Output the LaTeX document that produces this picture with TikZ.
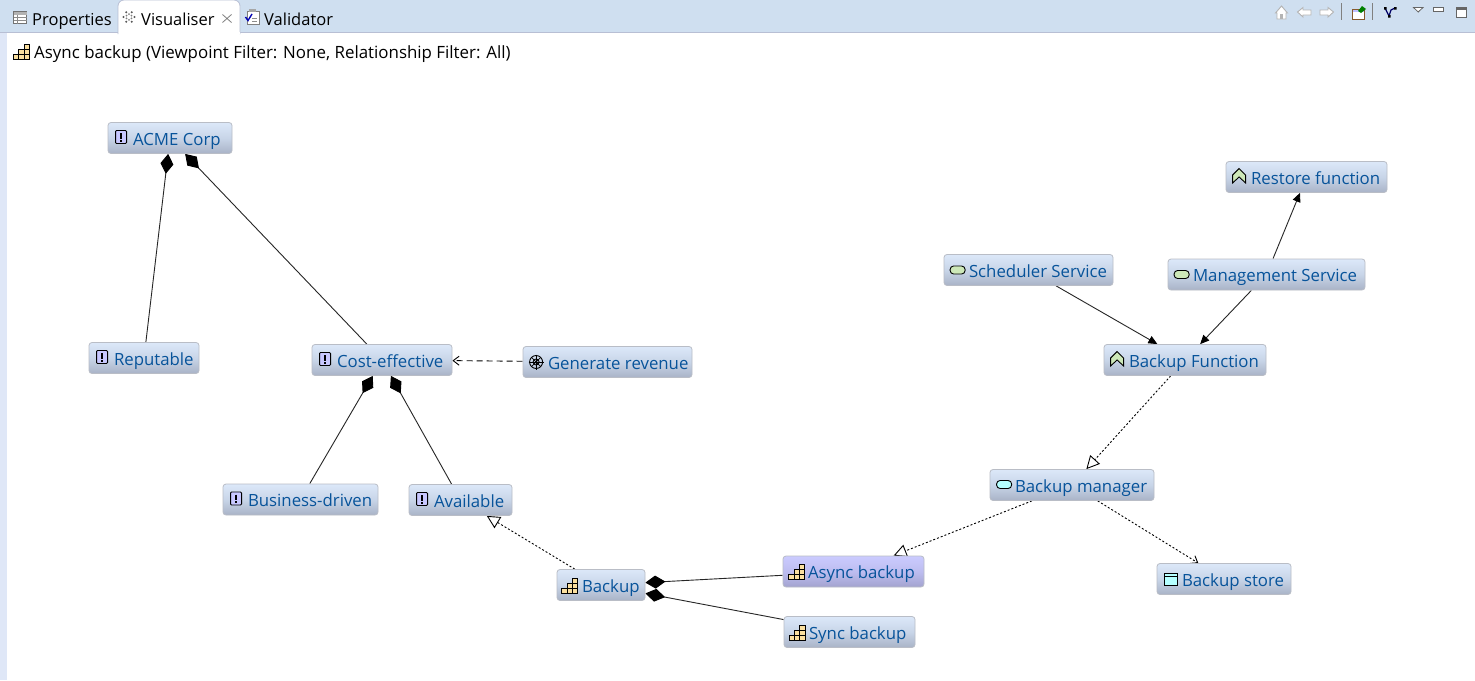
\documentclass[tikz,border=0pt]{standalone}
\usepackage{fontspec}
\setmainfont{Open Sans}
\usepackage{xcolor}
\usetikzlibrary{arrows.meta, backgrounds}
\definecolor{stripbg}{HTML}{CFDFF0}
\definecolor{stripline}{HTML}{B8BFD4}
\definecolor{sidebg}{HTML}{DFE7F7}
\definecolor{boxtop}{HTML}{DCE8F9}
\definecolor{boxmid}{HTML}{C8D5E8}
\definecolor{boxbot}{HTML}{A9B3C7}
\definecolor{boxline}{HTML}{B9BDC6}
\definecolor{seltop}{HTML}{CBCBFF}
\definecolor{selmid}{HTML}{BDBDF0}
\definecolor{selbot}{HTML}{A3A3CF}
\definecolor{elemtext}{HTML}{07539A}
\definecolor{reqfill}{HTML}{C8C8FF}
\definecolor{capfill}{HTML}{FADF9F}
\definecolor{funcfill}{HTML}{CDE8B8}
\definecolor{techfill}{HTML}{B5FFFF}
\definecolor{toolgrey}{HTML}{B4B4B4}
\tikzset{
  pics/reqicon/.style={code={
    \draw[line width=.9pt, fill=reqfill, rounded corners=1pt] (-5.5,-6.5) rectangle (5.5,6.5);
    \draw[line width=2pt] (0,-4) -- (0,1.5);
    \fill (-1,2.8) rectangle (1,4.8);
  }},
  pics/capicon/.style={code={
    \foreach \cx/\cy in {-8/8, -2.7/8, 2.6/8, -2.7/3, 2.6/3, 2.6/-2}
      \draw[line width=.8pt, fill=capfill] (\cx,\cy) rectangle ++(5.3,-5);
  }},
  pics/funcicon/.style={code={
    \draw[line width=.9pt, fill=funcfill] (-6.5,7) -- (-6.5,-1) -- (0,-7.5) -- (6.5,-1) -- (6.5,7) -- (0,1) -- cycle;
  }},
  pics/svcicon/.style={code={
    \draw[line width=.9pt, fill=funcfill, rounded corners=3.5pt] (-7.5,-4) rectangle (7.5,4);
  }},
  pics/mgricon/.style={code={
    \draw[line width=.9pt, fill=techfill, rounded corners=3.5pt] (-7.5,-4) rectangle (7.5,4);
  }},
  pics/storeicon/.style={code={
    \draw[line width=.9pt, fill=techfill] (-6.5,-6) rectangle (6.5,6);
    \draw[line width=.9pt] (-6.5,-2.5) -- (6.5,-2.5);
  }},
  pics/goalicon/.style={code={
    \draw[line width=.9pt] (0,0) circle (6.5);
    \draw[line width=.9pt] (0,0) circle (3);
    \draw[line width=.9pt] (-7.5,0) -- (7.5,0) (0,-7.5) -- (0,7.5);
    \draw[line width=.7pt] (-4.6,-4.6) -- (4.6,4.6) (-4.6,4.6) -- (4.6,-4.6);
  }},
}
\begin{document}
\begin{tikzpicture}[
  x=1pt, y=-1pt,
  elem/.style={draw=boxline, rounded corners=3pt, line width=.8pt,
               top color=boxtop, bottom color=boxbot, middle color=boxmid,
               minimum height=31pt, inner xsep=0pt, inner ysep=0pt,
               text width=#1pt, align=flush left, text height=19pt, text depth=5pt,
               execute at begin node=\hspace*{25pt},
               font=\fontsize{16.8}{20}\selectfont, text=elemtext},
  selected/.style={top color=seltop, bottom color=selbot, middle color=selmid},
  tabtext/.style={font=\fontsize{16.5}{20}\selectfont, inner sep=0pt, anchor=base west},
  titletext/.style={font=\fontsize{16.9}{20}\selectfont, inner sep=0pt, anchor=base west},
  compose/.style={{Diamond[length=20pt, width=13pt, black, fill=black]}-, line width=.9pt, black!85},
  assign/.style={-{Triangle[length=9pt, width=8pt, black, fill=black]}, line width=.9pt, black!85},
  realise/.style={-{Triangle[length=13pt, width=13pt, fill=white, line width=.9pt]}, line width=.9pt, dash pattern=on 2pt off 2pt},
  access/.style={-{Straight Barb[length=6pt, width=9pt, line width=.9pt]}, line width=.9pt, dash pattern=on 2pt off 2pt},
  influence/.style={-{Straight Barb[length=6pt, width=9pt, line width=.9pt]}, line width=.9pt, dash pattern=on 6pt off 4pt},
  toolshape/.style={line width=.9pt, draw=toolgrey, fill=white},
]
\useasboundingbox (0,0) rectangle (1475,680);

\node[elem=124] (acme) at (170,138) {ACME Corp};
\node[elem=110] (reputable) at (144,358) {Reputable};
\node[elem=140] (cost) at (382,360) {Cost-effective};
\node[elem=169] (revenue) at (607.5,362) {Generate revenue};
\node[elem=155] (driven) at (300.5,499.5) {Business-driven};
\node[elem=103] (available) at (460.5,500) {Available};
\node[elem=88] (backup) at (601,585) {Backup};
\node[elem=141, selected] (async) at (853.5,571.5) {Async backup};
\node[elem=131] (sync) at (849.5,632) {Sync backup};
\node[elem=161] (restore) at (1306.5,177) {Restore function};
\node[elem=169] (scheduler) at (1028.5,270) {Scheduler Service};
\node[elem=197] (management) at (1266.5,274.5) {Management Service};
\node[elem=162] (function) at (1185,360) {Backup Function};
\node[elem=164] (manager) at (1072,485) {Backup manager};
\node[elem=134] (store) at (1224,579) {Backup store};

\foreach \n/\ic/\dx/\dy in {acme/reqicon/13.5/-1, reputable/reqicon/13.5/-1, cost/reqicon/13.5/-1,
    driven/reqicon/13.5/-1, available/reqicon/13.5/-1, revenue/goalicon/13.5/0,
    backup/capicon/13/0, async/capicon/14/0, sync/capicon/13.5/0,
    restore/funcicon/13.5/-1, function/funcicon/13.5/-1, scheduler/svcicon/14/0,
    management/svcicon/14/0, manager/mgricon/14.5/-0.5, store/storeicon/14.5/0}
  \pic at ([xshift=\dx pt, yshift=-\dy pt]\n.west) {\ic};

\begin{scope}[on background layer]
\fill[white] (0,0) rectangle (1475,680);
\fill[sidebg] (0,32) rectangle (7,680);
\fill[stripbg] (0,0) rectangle (1475,32);
\draw[stripline, line width=1.2pt] (0,32.5) -- (1475,32.5);
\draw[stripline, line width=.8pt, fill=white, rounded corners=6pt] (118,34) -- (118,0) -- (240,0) -- (240,34);
\fill[white] (118.5,32) rectangle (239.5,34);

\draw[compose] (acme) -- (reputable);
\draw[compose] (acme) -- (cost);
\draw[compose] (cost) -- (driven);
\draw[compose] (cost) -- (available);
\draw[compose] (backup) -- (async);
\draw[compose] (backup) -- (sync);
\draw[influence] (revenue) -- (cost);
\draw[realise] (backup) -- (available);
\draw[realise] (function) -- (manager);
\draw[realise] (manager) -- (async);
\draw[access] (manager) -- (store);
\draw[assign] (management) -- (restore);
\draw[assign] (management) -- (function);
\draw[assign] (scheduler) -- (function);
\end{scope}

\node[tabtext] (tabprops) at (32,25) {Properties};
\node[tabtext] (tabvis) at (141,25) {Visualiser};
\node[tabtext] (tabval) at (264,25) {Validator};
\node[titletext] (title) at (34,58) {Async backup (Viewpoint Filter: None, Relationship Filter: All)};

\pic at (21.5,51) {capicon};
\draw[line width=.8pt, draw=black!55, fill=white] (13.5,11.5) rectangle (26.5,23.5);
\fill[black!30] (13.5,11.5) rectangle (26.5,14.5);
\draw[line width=.6pt, black!45] (13.5,17.5) -- (26.5,17.5) (13.5,20.5) -- (26.5,20.5) (17.5,14.5) -- (17.5,23.5);
\foreach \a in {0,60,...,300}
  \fill[black!65] (129,17) ++(\a:5.5) circle (1.2);
\foreach \a in {30,90,...,330}
  \fill[black!50] (129,17) ++(\a:2.8) circle (1);
\draw[line width=.8pt, black!50] (222.5,14.5) -- (231.5,22.5) (231.5,14.5) -- (222.5,22.5);
\draw[line width=.8pt, black!50, fill=white] (247,11) rectangle (259,24);
\fill[black!35] (249,9) rectangle (256,12);
\draw[line width=1.4pt, blue!70!black] (245.5,17) -- (248,20.5) -- (252,14);
\draw[line width=.7pt, black!45] (252,18) -- (257,18) (252,21) -- (257,21);

\draw[toolshape] (1275.5,13) -- (1281.5,6) -- (1287.5,13) -- (1286,13) -- (1286,19) -- (1277,19) -- (1277,13) -- cycle;
\fill[toolgrey] (1280,14) rectangle (1283,19);
\draw[toolshape] (1297.5,12) -- (1303,7.5) -- (1303,10) -- (1311,10) -- (1311,15) -- (1303,15) -- (1303,17) -- cycle;
\draw[toolshape] (1333.5,12) -- (1328,7.5) -- (1328,10) -- (1320,10) -- (1320,15) -- (1328,15) -- (1328,17) -- cycle;
\draw[line width=.8pt, black!50] (1341.5,3) -- (1341.5,20) (1372.5,3) -- (1372.5,20);
\draw[line width=.9pt, draw=brown!70!black, fill=white] (1352.5,9) rectangle (1364.5,19);
\fill[blue!25] (1353,9.5) rectangle (1364,12);
\fill[green!50!black] (1358,11) -- (1362,6) -- (1366,9) -- (1361,13) -- cycle;
\draw[line width=1.2pt, blue!40!black] (1385,8) -- (1389,16) -- (1391,10) -- (1395,8);
\fill[black] (1384,7) rectangle (1386.5,9.5) (1394,7) rectangle (1396.5,9.5) (1388,15) rectangle (1390.5,17.5);
\draw[line width=.8pt, black!60, fill=white] (1413.5,7.5) -- (1423,7.5) -- (1418.2,12) -- cycle;
\draw[line width=.9pt, black!60, fill=white] (1433.5,7.5) rectangle (1443,11);
\draw[line width=.9pt, black!60, fill=white] (1456.5,7.5) rectangle (1466,17);
\draw[line width=2pt, black!60] (1456.5,9) -- (1466,9);
\end{tikzpicture}
\end{document}
